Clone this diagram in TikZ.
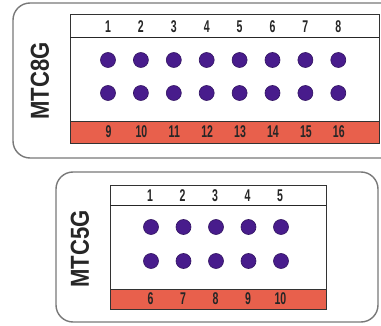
\documentclass[tikz,border=0pt]{standalone}
\usepackage{fontspec}
\setmainfont{Liberation Sans}
\definecolor{pinred}{RGB}{232,96,76}
\definecolor{pindot}{RGB}{72,28,140}
\definecolor{panelgray}{RGB}{120,120,120}
\tikzset{
  panel/.style={draw=panelgray, line width=1.4pt, rounded corners=17pt, fill=white},
  inner/.style={draw=black!80, line width=0.8pt, fill=white},
  band/.style={fill=pinred, draw=black!80, line width=0.8pt},
  pin/.style={circle, fill=pindot, draw=pindot!70!black, line width=0.6pt, inner sep=0pt, minimum size=15pt},
  num/.style={font=\bfseries\fontsize{17}{17}\selectfont, xscale=0.62, inner sep=0pt, text=black!85},
  lbl/.style={font=\bfseries\fontsize{26}{26}\selectfont, rotate=90, inner sep=0pt, xscale=0.85, text=black!85}
}
\begin{document}
\begin{tikzpicture}[x=1pt,y=-1pt]
\useasboundingbox (0,0) rectangle (381,326);
\clip (0,0) rectangle (381,326);
\fill[white] (0,0) rectangle (381,326);
% ---- top panel (MTC8G)
\draw[panel] (13,3) rectangle (420,158);
\draw[inner] (70,14) rectangle (379,143);
\draw[black!85, line width=1pt] (70,38) -- (379,38);
\draw[band] (70,121) rectangle (379,143);
\node[lbl] (l8) at (40,81) {MTC8G};
\foreach \i in {1,...,8} {
  \pgfmathsetmacro{\xx}{108+32.9*(\i-1)}
  \pgfmathtruncatemacro{\j}{\i+8}
  \node[num] (a\i) at (\xx,26.5) {\i};
  \node[pin] (p\i) at (\xx,60) {};
  \node[pin] (q\i) at (\xx,93) {};
  \node[num] (b\i) at (\xx+0.5,132) {\j};
}
% ---- bottom panel (MTC5G)
\draw[panel] (56,172) rectangle (378,322);
\draw[inner] (110,185) rectangle (326,309);
\draw[black!85, line width=1pt] (110,205.5) -- (326,205.5);
\draw[band] (110,289) rectangle (326,309);
\node[lbl] (l5) at (80,249) {MTC5G};
\foreach \i in {1,...,5} {
  \pgfmathsetmacro{\xx}{150+32.5*(\i-1)}
  \pgfmathtruncatemacro{\j}{\i+5}
  \node[num] (c\i) at (\xx,195.5) {\i};
  \node[pin] (r\i) at (\xx+1,227) {};
  \node[pin] (s\i) at (\xx+1,261) {};
  \node[num] (d\i) at (\xx+0.5,299) {\j};
}
\end{tikzpicture}
\end{document}
